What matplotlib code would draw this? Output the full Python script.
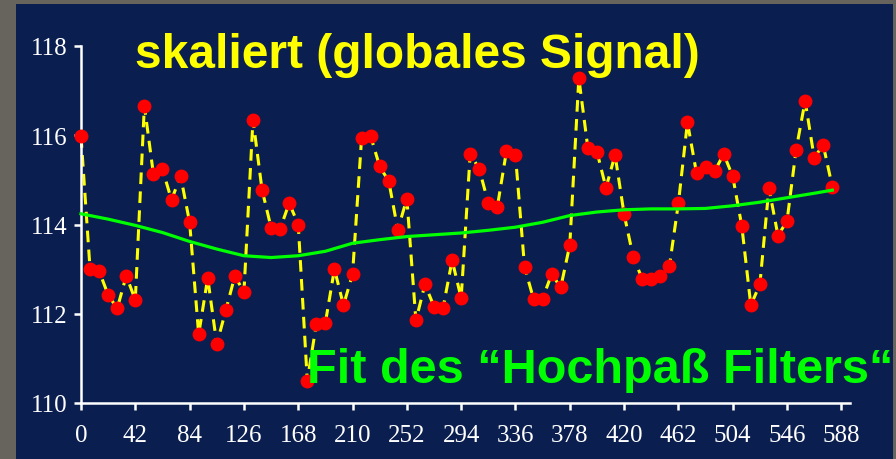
import matplotlib
matplotlib.use("Agg")
import matplotlib.pyplot as plt
import numpy as np

# sample spacing along the x axis
STEP = 7

signal = [
    115.98, 113.00, 112.96, 112.42, 112.12, 112.85, 112.31, 116.66, 115.13, 115.24,
    114.55, 115.09, 114.05, 111.54, 112.80, 111.32, 112.08, 112.85, 112.48, 116.35,
    114.78, 113.93, 113.90, 114.48, 114.00, 110.50, 111.77, 111.80, 113.00, 112.19,
    112.89, 115.94, 115.98, 115.30, 114.97, 113.88, 114.58, 111.85, 112.66, 112.16,
    112.13, 113.20, 112.35, 115.59, 115.24, 114.48, 114.40, 115.64, 115.55, 113.05,
    112.33, 112.34, 112.89, 112.59, 113.54, 117.28, 115.71, 115.63, 114.82, 115.56,
    114.23, 113.28, 112.78, 112.78, 112.85, 113.06, 114.48, 116.29, 115.15, 115.28,
    115.19, 115.58, 115.08, 113.97, 112.19, 112.66, 114.82, 113.75, 114.08, 115.67,
    116.77, 115.50, 115.78, 114.85,
]

fit_x = [0, 21, 42, 63, 84, 105, 126, 147, 168, 189, 210, 231, 252, 273, 294,
         315, 336, 357, 378, 399, 420, 441, 462, 483, 504, 525, 546, 567, 581]
fit_y = [114.24, 114.12, 113.98, 113.82, 113.62, 113.45, 113.30, 113.26, 113.30,
         113.40, 113.58, 113.66, 113.73, 113.77, 113.81, 113.87, 113.94, 114.05,
         114.20, 114.28, 114.33, 114.35, 114.35, 114.36, 114.42, 114.50, 114.60,
         114.70, 114.77]

xticks = list(range(0, 589, 42))
yticks = [110, 112, 114, 116, 118]

title = "skaliert (globales Signal)"
fit_label = "Fit des \u201cHochpa\u00df Filters\u201c"

W, H = 896, 460
fig = plt.figure(figsize=(W / 100, H / 100), dpi=100)
fig.patch.set_facecolor("#67645e")

# dark slide panel behind the plot
bg = fig.add_axes([16 / W, 0, 877 / W, 455 / H], zorder=0)
bg.set_facecolor("#0a1e50")
bg.set_xticks([])
bg.set_yticks([])
for s in bg.spines.values():
    s.set_visible(False)

ax = fig.add_axes([81 / W, 1 - 404 / H, 769 / W, 357 / H], zorder=1)
ax.set_facecolor("none")

x = np.arange(len(signal)) * STEP
ax.plot(x, signal, color="#ffff00", lw=2.2, dashes=(3.8, 2.4), zorder=2, clip_on=False)
ax.plot(x, signal, "o", color="#ff0000", ms=9, zorder=3, clip_on=False)
ax.plot(fit_x, fit_y, color="#00ff00", lw=2.3, zorder=4, clip_on=False)

ax.set_xlim(0, 594.7)
ax.set_ylim(110, 118)
ax.set_xticks(xticks)
ax.set_yticks(yticks)

for side in ["top", "right"]:
    ax.spines[side].set_visible(False)
for side in ["left", "bottom"]:
    ax.spines[side].set_color("white")
    ax.spines[side].set_linewidth(1.8)
ax.tick_params(colors="white", width=1.8, length=5, direction="out", pad=5,
               labelsize=18)
ax.tick_params(axis="x", pad=10)
for lab in ax.get_xticklabels() + ax.get_yticklabels():
    lab.set_fontfamily("Liberation Serif")

fig.text(135 / W, 1 - 68 / H, title, color="#ffff00", fontsize=34.5,
         fontweight="bold", family="Liberation Sans", ha="left", va="baseline",
         zorder=5)
fig.text(307 / W, 1 - 383 / H, fit_label, color="#00ff00", fontsize=35,
         fontweight="bold", family="Liberation Sans", ha="left", va="baseline",
         zorder=5)

fig.savefig("out.png", dpi=100, facecolor=fig.get_facecolor())
